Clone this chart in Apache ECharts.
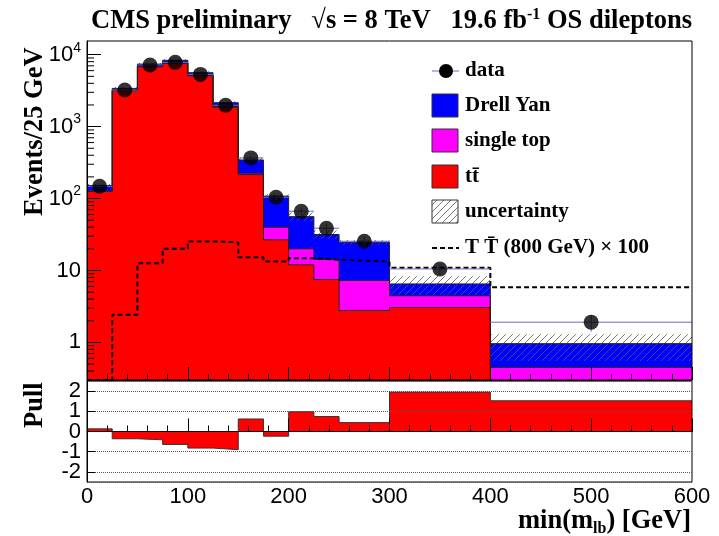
<!DOCTYPE html>
<html lang="en">
<head>
<meta charset="UTF-8">
<title>min(m_lb) OS dileptons</title>
<script src="https://cdn.jsdelivr.net/npm/echarts@6/dist/echarts.min.js"></script>
<style>
  html, body { margin: 0; padding: 0; background: #fff; }
  #main { width: 719px; height: 536px; }
</style>
</head>
<body>
<div id="main"></div>
<script>
// bin edges (GeV), variable width
var binEdges = [0, 25, 50, 75, 100, 125, 150, 175, 200, 225, 250, 300, 400, 600];

// events / 25 GeV
var ttbar     = [126, 3160, 6800, 7590, 5100, 1870, 215, 26.7, 12, 7.5, 2.78, 3.05, 0.1];
var singleTop = [2, 30, 60, 70, 50, 25, 10, 13.3, 8, 6.7, 4.5, 1.4, 0.35];
var drellYan  = [24, 210, 540, 690, 470, 255, 119, 68, 36, 17.4, 17.4, 2.05, 0.51];
var dataVals  = [148, 3230, 7200, 7820, 5320, 1980, 367, 104, 66.7, 38.7, 25.5, 10.5, 1.91];
var dataErr   = [12, 57, 85, 88, 73, 44, 19, 10, 8, 6, 3.6, 1.6, 0.5];
var uncLow    = [140, 3250, 7100, 8000, 5350, 2050, 325, 100, 48, 27.5, 23, 4.6, 0.55];
var uncHigh   = [160, 3550, 7700, 8700, 5900, 2250, 365, 116, 64, 36, 26.5, 8.3, 1.3];
var tprime    = [0.3, 2.43, 12.6, 20, 25.3, 24.7, 15.3, 13.3, 14.8, 14.1, 13.3, 10.9, 5.86];
var pull      = [0.13, -0.36, -0.41, -0.64, -0.82, -0.9, 0.62, -0.23, 0.98, 0.74, 0.44, 1.95, 1.52];

var serif = 'Liberation Serif';
var sans = 'Liberation Sans';

function stepData(vals) {
    var out = [];
    for (var i = 0; i < vals.length; i++) out.push([binEdges[i], vals[i]]);
    out.push([binEdges[vals.length], vals[vals.length - 1]]);
    return out;
}

// stacked tops
var topTT = ttbar.slice();
var topST = ttbar.map(function (v, i) { return v + singleTop[i]; });
var topAll = topST.map(function (v, i) { return v + drellYan[i]; });

var binRows = binEdges.slice(0, -1).map(function (e, i) {
    return [e, binEdges[i + 1], uncLow[i], uncHigh[i], dataVals[i], dataErr[i]];
});

// hatch pattern
var hc = document.createElement('canvas');
hc.width = 7; hc.height = 7;
var hctx = hc.getContext('2d');
hctx.strokeStyle = '#555';
hctx.lineWidth = 0.8;
hctx.beginPath();
hctx.moveTo(0, 7); hctx.lineTo(7, 0);
hctx.moveTo(-1, 1); hctx.lineTo(1, -1);
hctx.moveTo(6, 8); hctx.lineTo(8, 6);
hctx.stroke();
var hatch = { image: hc, repeat: 'repeat' };

// log minor ticks
var minorVals = [];
for (var d = -1; d <= 4; d++) {
    for (var m = 2; m <= 9; m++) {
        var v = m * Math.pow(10, d);
        if (v > 0.3 && v < 15500) minorVals.push(v);
    }
}

function histLine(name, vals, color) {
    return {
        name: name, type: 'line', step: 'end', data: stepData(vals),
        xAxisIndex: 0, yAxisIndex: 0, symbol: 'none', animation: false, clip: true,
        lineStyle: { color: '#222', width: 1 },
        areaStyle: { color: color, opacity: 1 }
    };
}

function legendText(y, txt) {
    return { type: 'text', z: 20, x: 465, y: y, style: { text: txt, fontFamily: serif, fontWeight: 'bold', fontSize: 21, fill: '#000', verticalAlign: 'middle' } };
}

var chart = echarts.init(document.getElementById('main'));
chart.setOption({
    animation: false,
    backgroundColor: '#fff',
    title: {
        text: 'CMS preliminary   \u221As = 8 TeV   19.6 fb{s|-1} OS dileptons',
        left: 86, top: 2,
        textStyle: {
            fontFamily: serif, fontWeight: 'bold', fontSize: 26.5, color: '#000',
            rich: { s: { fontFamily: serif, fontWeight: 'bold', fontSize: 16, padding: [0, 0, 12, 0], color: '#000' } }
        }
    },
    grid: [
        { left: 87, right: 27, top: 41, height: 339, show: true, borderColor: '#000', borderWidth: 1, backgroundColor: 'transparent', z: 6 },
        { left: 87, right: 27, top: 381, height: 101, show: true, borderColor: '#000', borderWidth: 1, backgroundColor: 'transparent', z: 6 }
    ],
    xAxis: [
        {
            type: 'value', gridIndex: 0, min: 0, max: 600, interval: 100, z: 10,
            axisLine: { lineStyle: { color: '#000' } },
            axisTick: { inside: true, length: 13, lineStyle: { color: '#000' } },
            minorTick: { show: true, splitNumber: 5, length: 6, lineStyle: { color: '#000' } },
            axisLabel: { show: false },
            splitLine: { show: false }
        },
        {
            type: 'value', gridIndex: 1, min: 0, max: 600, interval: 100, z: 10,
            axisLine: { lineStyle: { color: '#000' } },
            axisTick: { inside: true, length: 13, lineStyle: { color: '#000' } },
            minorTick: { show: true, splitNumber: 5, length: 6, lineStyle: { color: '#000' } },
            axisLabel: { fontFamily: sans, fontSize: 22, color: '#000', margin: 4 },
            splitLine: { show: false }
        }
    ],
    yAxis: [
        {
            type: 'log', gridIndex: 0, min: 0.3, max: 15500, logBase: 10, z: 10,
            axisLine: { show: true, lineStyle: { color: '#000' } },
            axisTick: { inside: true, length: 14, lineStyle: { color: '#000' } },
            axisLabel: {
                fontFamily: sans, fontSize: 22, color: '#000', margin: 6,
                showMinLabel: false, showMaxLabel: false,
                formatter: function (val) {
                    var e = Math.round(Math.log(val) / Math.LN10);
                    if (e <= 0) return '1';
                    if (e === 1) return '10';
                    return '{b|10}{s|' + e + '}';
                },
                rich: {
                    b: { fontFamily: sans, fontSize: 22, color: '#000' },
                    s: { fontFamily: sans, fontSize: 14, color: '#000', padding: [0, 0, 14, 0] }
                }
            },
            splitLine: { show: false }
        },
        {
            type: 'value', gridIndex: 1, min: -2.5, max: 2.5, splitNumber: 5, z: 10,
            axisLine: { show: true, lineStyle: { color: '#000' } },
            axisTick: { inside: true, length: 8, lineStyle: { color: '#000' } },
            axisLabel: { fontFamily: sans, fontSize: 22, color: '#000', margin: 6, showMinLabel: false, showMaxLabel: false },
            splitLine: { show: true, lineStyle: { type: 'dotted', color: '#555', width: 1 } }
        }
    ],
    graphic: [
        {
            type: 'text', rotation: Math.PI / 2, z: 20,
            style: { text: 'Events/25 GeV', fontFamily: serif, fontWeight: 'bold', fontSize: 26.5, fill: '#000' },
            x: 22, y: 216
        },
        {
            type: 'text', rotation: Math.PI / 2, z: 20,
            style: { text: 'Pull', fontFamily: serif, fontWeight: 'bold', fontSize: 26.5, fill: '#000' },
            x: 22, y: 428
        },
        {
            type: 'text', z: 20, x: 691, y: 521,
            style: {
                text: 'min(m{sub|lb}) [GeV]', fontFamily: serif, fontWeight: 'bold', fontSize: 26.5, fill: '#000',
                align: 'right', verticalAlign: 'middle',
                rich: { sub: { fontFamily: serif, fontWeight: 'bold', fontSize: 16, padding: [16, 0, 0, 0] } }
            }
        },
        // legend
        { type: 'line', z: 20, shape: { x1: 432, y1: 71, x2: 459, y2: 71 }, style: { stroke: '#6b6bc8', lineWidth: 1 } },
        { type: 'circle', z: 21, shape: { cx: 446, cy: 71, r: 7 }, style: { fill: '#000' } },
        legendText(71, 'data'),
        { type: 'rect', z: 20, shape: { x: 432, y: 94, width: 26, height: 23 }, style: { fill: '#0000ff', stroke: '#333', lineWidth: 1 } },
        legendText(106, 'Drell Yan'),
        { type: 'rect', z: 20, shape: { x: 432, y: 129, width: 26, height: 23 }, style: { fill: '#ff00ff', stroke: '#333', lineWidth: 1 } },
        legendText(141, 'single top'),
        { type: 'rect', z: 20, shape: { x: 432, y: 165, width: 26, height: 23 }, style: { fill: '#ff0000', stroke: '#333', lineWidth: 1 } },
        legendText(177, 'tt\u0304'),
        { type: 'rect', z: 20, shape: { x: 432, y: 200, width: 26, height: 23 }, style: { fill: hatch, stroke: '#333', lineWidth: 1 } },
        legendText(212, 'uncertainty'),
        { type: 'line', z: 20, shape: { x1: 432, y1: 248, x2: 459, y2: 248 }, style: { stroke: '#000', lineWidth: 2, lineDash: [5, 3] } },
        legendText(248, 'T T\u0304 (800 GeV) \u00d7 100')
    ],
    series: [
        histLine('Drell Yan', topAll, '#0000ff'),
        histLine('single top', topST, '#ff00ff'),
        histLine('tt', topTT, '#ff0000'),
        {
            name: 'uncertainty', type: 'custom', xAxisIndex: 0, yAxisIndex: 0, data: binRows, clip: true, z: 3,
            renderItem: function (params, api) {
                var p0 = api.coord([api.value(0), api.value(3)]);
                var p1 = api.coord([api.value(1), api.value(2)]);
                return {
                    type: 'rect',
                    shape: { x: p0[0], y: p0[1], width: p1[0] - p0[0], height: p1[1] - p0[1] },
                    style: { fill: hatch, stroke: null }
                };
            }
        },
        {
            name: 'TT800', type: 'line', step: 'end', data: stepData(tprime), xAxisIndex: 0, yAxisIndex: 0,
            symbol: 'none', clip: true, z: 4,
            lineStyle: { color: '#000', width: 2, type: [5, 3] }
        },
        {
            name: 'dataErr', type: 'custom', xAxisIndex: 0, yAxisIndex: 0, data: binRows, clip: true, z: 5,
            renderItem: function (params, api) {
                var x0 = api.value(0), x1 = api.value(1), y = api.value(4), e = api.value(5);
                var a = api.coord([x0, y]), b = api.coord([x1, y]);
                var c = api.coord([(x0 + x1) / 2, y - e]), t = api.coord([(x0 + x1) / 2, y + e]);
                return {
                    type: 'group',
                    children: [
                        { type: 'line', shape: { x1: a[0], y1: a[1], x2: b[0], y2: b[1] }, style: { stroke: '#6b6bc8', lineWidth: 1 } },
                        { type: 'line', shape: { x1: c[0], y1: c[1], x2: t[0], y2: t[1] }, style: { stroke: '#6b6bc8', lineWidth: 1 } }
                    ]
                };
            }
        },
        {
            name: 'data', type: 'scatter', xAxisIndex: 0, yAxisIndex: 0, z: 6,
            data: dataVals.map(function (v, i) { return [(binEdges[i] + binEdges[i + 1]) / 2, v]; }),
            symbol: 'circle', symbolSize: 15, itemStyle: { color: '#000' }
        },
        {
            name: 'minorTicks', type: 'custom', xAxisIndex: 0, yAxisIndex: 0, data: minorVals, z: 11, silent: true,
            renderItem: function (params, api) {
                var p = api.coord([0, api.value(0)]);
                return { type: 'line', shape: { x1: p[0], y1: p[1], x2: p[0] + 7, y2: p[1] }, style: { stroke: '#000', lineWidth: 1 } };
            },
            encode: { x: -1, y: 0 }
        },
        {
            name: 'pull', type: 'line', step: 'end', data: stepData(pull), xAxisIndex: 1, yAxisIndex: 1,
            symbol: 'none', clip: true,
            lineStyle: { color: '#333', width: 1 },
            areaStyle: { color: '#ff0000', opacity: 1 }
        }
    ]
});
</script>
</body>
</html>
